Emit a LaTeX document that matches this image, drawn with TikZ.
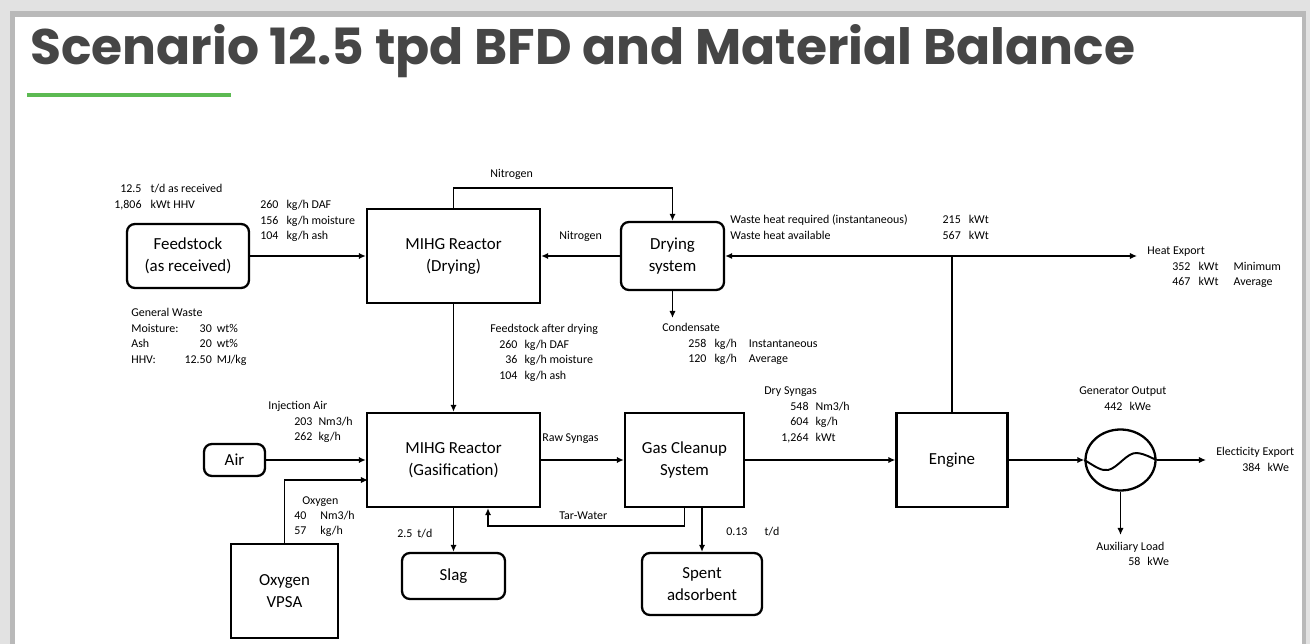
\documentclass[tikz,border=0pt]{standalone}
\usepackage{fontspec}
\setmainfont{Carlito}
\newfontfamily\titlefont{Poppins}
\usetikzlibrary{arrows.meta,shapes.geometric}
\definecolor{titlegray}{RGB}{70,70,70}
\definecolor{titlegreen}{RGB}{92,186,82}
\definecolor{slidegray}{RGB}{226,226,226}
\definecolor{shadowgray}{RGB}{185,185,185}

\begin{document}
\begin{tikzpicture}[x=0.02cm, y=-0.02cm,
  blk/.style={draw, line width=1.3pt, align=center, inner sep=0, font=\fontsize{9.6}{12.5}\selectfont},
  rblk/.style={blk, rounded corners=4.5pt},
  lbl/.style={anchor=base west, inner sep=0, font=\fontsize{6.8}{8.8}\selectfont},
  pipe/.style={line width=1.1pt},
  flow/.style={pipe, -{Latex[length=4pt,width=3.6pt]}}]
  \useasboundingbox (0,0) rectangle (1310,644);
  \fill[slidegray] (0,0) rectangle (1310,644);
  \fill[shadowgray] (10,11) rectangle (1306,644);
  \fill[white] (15,17) rectangle (1302,644);

  \node[anchor=base west, inner sep=0, text=titlegray] (title) at (30,65)
    {\resizebox{22.1cm}{0.8cm}{\titlefont\bfseries Scenario 12.5 tpd BFD and Material Balance}};
  \draw[titlegreen, line width=2.3pt] (27,95) -- (231,95);

  \node[rblk, minimum width=2.44cm, minimum height=1.28cm] (feed) at (188,256) {Feedstock\\(as received)};
  \node[blk, minimum width=3.46cm, minimum height=1.88cm] (mihgdry) at (453.5,256) {MIHG Reactor\\(Drying)};
  \node[rblk, minimum width=2.06cm, minimum height=1.36cm] (dryer) at (672.5,256) {Drying\\system};

  \node[rblk, minimum width=1.22cm, minimum height=0.64cm] (air) at (234.5,460) {Air};
  \node[blk, minimum width=3.46cm, minimum height=1.88cm] (gasif) at (453.5,460) {MIHG Reactor\\(Gasification)};
  \node[blk, minimum width=2.38cm, minimum height=1.88cm] (cleanup) at (684.5,460) {Gas Cleanup\\System};
  \node[blk, minimum width=2.22cm, minimum height=1.88cm] (engine) at (952,460) {Engine};
  \node[blk, ellipse, minimum width=1.4cm, minimum height=1.22cm] (gen) at (1120.5,460) {};

  \node[blk, minimum width=2.14cm, minimum height=1.88cm] (vpsa) at (284.5,591) {Oxygen\\VPSA};
  \node[rblk, minimum width=2.06cm, minimum height=0.92cm] (slag) at (453.5,576) {Slag};
  \node[rblk, minimum width=2.4cm, minimum height=1.24cm] (spent) at (702,584) {Spent\\adsorbent};

  \coordinate (heatend) at (1137,256);
  \coordinate (condend) at (672.5,318);
  \coordinate (elecend) at (1206,460);
  \coordinate (auxend) at (1120.5,535);
  \coordinate (o2in) at (368,480);
  \coordinate (tarbend) at (488,526);

  \draw[flow] (feed) -- (mihgdry);
  \draw[flow] (dryer) -- (mihgdry);
  \draw[flow] (mihgdry.north) -- ++(0,-20) -| (dryer.north);
  \draw[pipe, {Latex[length=4pt,width=3.6pt]}-{Latex[length=4pt,width=3.6pt]}] (dryer.east) -- (heatend);
  \draw[pipe] (engine.north) -- (engine.north |- heatend);
  \draw[flow] (dryer.south) -- (condend);
  \draw[flow] (mihgdry) -- (gasif);
  \draw[flow] (air) -- (air -| gasif.west);
  \draw[flow] (vpsa.north) |- (o2in);
  \draw[flow] (gasif) -- (cleanup);
  \draw[flow] (cleanup) -- (engine);
  \draw[flow] (engine) -- (gen);
  \draw[flow] (gen) -- (elecend);
  \draw[flow] (gen) -- (auxend);
  \draw[flow] (gasif) -- (slag);
  \draw[flow] (spent.north |- cleanup.south) -- (spent);
  \draw[flow] (cleanup.south) |- (tarbend) -- (tarbend |- gasif.south);
  \draw[pipe] (gen.west) .. controls (1096,467) and (1101,471) .. (1108,470)
    .. controls (1118,468) and (1127,452) .. (1137,453)
    .. controls (1146,454) and (1151,458) .. (gen.east);

  \node[lbl] (feedin) at (114,193) {\begin{tabular}[t]{@{}r@{\hspace{0.18cm}}l@{}}
    12.5 & t/d as received\\ 1,806 & kWt HHV\end{tabular}};
  \node[lbl] (feedflow) at (260,209) {\begin{tabular}[t]{@{}r@{\hspace{0.16cm}}l@{}}
    260 & kg/h DAF\\ 156 & kg/h moisture\\ 104 & kg/h ash\end{tabular}};
  \node[lbl] (waste) at (131,317) {\begin{tabular}[t]{@{}l@{\hspace{0.12cm}}r@{\hspace{0.1cm}}l@{}}
    \multicolumn{3}{@{}l@{}}{General Waste}\\ Moisture: & 30 & wt\%\\ Ash & 20 & wt\%\\ HHV: & 12.50 & MJ/kg\end{tabular}};
  \node[lbl] (n2top) at (490,178) {Nitrogen};
  \node[lbl] (n2mid) at (559,240) {Nitrogen};
  \node[lbl] (dried) at (490,333) {\begin{tabular}[t]{@{\hspace{0.18cm}}r@{\hspace{0.14cm}}l@{}}
    \multicolumn{2}{@{}l@{}}{Feedstock after drying}\\ 260 & kg/h DAF\\ 36 & kg/h moisture\\ 104 & kg/h ash\end{tabular}};
  \node[lbl] (condlbl) at (662,332) {\begin{tabular}[t]{@{\hspace{0.52cm}}r@{\hspace{0.16cm}}l@{\hspace{0.24cm}}l@{}}
    \multicolumn{3}{@{}l@{}}{Condensate}\\ 258 & kg/h & Instantaneous\\ 120 & kg/h & Average\end{tabular}};
  \node[lbl] (heatlbl) at (730,224) {\begin{tabular}[t]{@{}l@{\hspace{0.7cm}}r@{\hspace{0.16cm}}l@{}}
    Waste heat required (instantaneous) & 215 & kWt\\ Waste heat available & 567 & kWt\end{tabular}};
  \node[lbl] (heatexp) at (1147,255) {\begin{tabular}[t]{@{\hspace{0.5cm}}r@{\hspace{0.16cm}}l@{\hspace{0.3cm}}l@{}}
    \multicolumn{3}{@{}l@{}}{Heat Export}\\ 352 & kWt & Minimum\\ 467 & kWt & Average\end{tabular}};
  \node[lbl] (injair) at (268,410) {\begin{tabular}[t]{@{\hspace{0.52cm}}r@{\hspace{0.12cm}}l@{}}
    \multicolumn{2}{@{}l@{}}{Injection Air}\\ 203 & Nm3/h\\ 262 & kg/h\end{tabular}};
  \node[lbl] (o2lbl) at (294,504) {\begin{tabular}[t]{@{}l@{\hspace{0.28cm}}l@{}}
    \multicolumn{2}{@{\hspace{0.16cm}}l@{}}{Oxygen}\\ 40 & Nm3/h\\ 57 & kg/h\end{tabular}};
  \node[lbl] (slaglbl) at (397,537) {2.5\hspace{0.1cm}t/d};
  \node[lbl] (rawlbl) at (542,441) {Raw Syngas};
  \node[lbl] (tarlbl) at (559,519) {Tar-Water};
  \node[lbl] (spentlbl) at (726,535) {0.13\hspace{0.34cm}t/d};
  \node[lbl] (drysyn) at (764,395) {\begin{tabular}[t]{@{\hspace{0.34cm}}r@{\hspace{0.14cm}}l@{}}
    \multicolumn{2}{@{}l@{}}{Dry Syngas}\\ 548 & Nm3/h\\ 604 & kg/h\\ 1,264 & kWt\end{tabular}};
  \node[lbl] (genout) at (1079,395) {\begin{tabular}[t]{@{\hspace{0.5cm}}r@{\hspace{0.14cm}}l@{}}
    \multicolumn{2}{@{}l@{}}{Generator Output}\\ 442 & kWe\end{tabular}};
  \node[lbl] (eleclbl) at (1216,456) {\begin{tabular}[t]{@{\hspace{0.52cm}}r@{\hspace{0.14cm}}l@{}}
    \multicolumn{2}{@{}l@{}}{Electicity Export}\\ 384 & kWe\end{tabular}};
  \node[lbl] (auxlbl) at (1096,550) {\begin{tabular}[t]{@{\hspace{0.64cm}}r@{\hspace{0.14cm}}l@{}}
    \multicolumn{2}{@{}l@{}}{Auxiliary Load}\\ 58 & kWe\end{tabular}};
\end{tikzpicture}
\end{document}
